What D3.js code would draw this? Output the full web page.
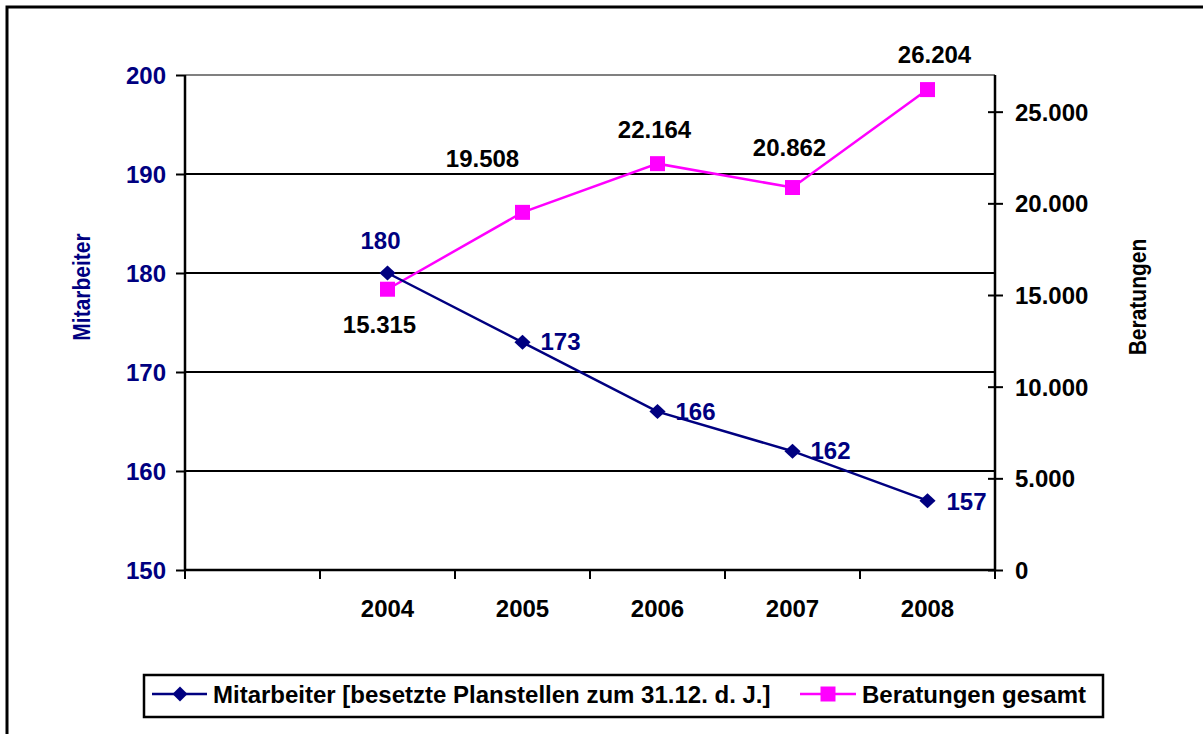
<html>
<head>
<meta charset="utf-8">
<script src="https://d3js.org/d3.v7.min.js"></script>
<style>
body { margin: 0; background: white; }
text { font-family: "Liberation Sans", Arial, sans-serif; font-weight: bold; }
</style>
</head>
<body>
<svg width="1203" height="734"></svg>
<script>
// data
var years = ["", "2004", "2005", "2006", "2007", "2008"];
var mitarbeiter = [null, 180, 173, 166, 162, 157];
var beratungen = [null, 15315, 19508, 22164, 20862, 26204];
var leftTicks = [150, 160, 170, 180, 190, 200];
var rightTicks = [0, 5000, 10000, 15000, 20000, 25000];
var seriesNames = ["Mitarbeiter [besetzte Planstellen zum 31.12. d. J.]", "Beratungen gesamt"];

// label offsets (dx, dy of baseline, anchor) per point
var mLabelPos = [null, [-7, -24, "middle"], [18, 8, "start"], [18, 8, "start"], [18, 8, "start"], [19, 9, "start"]];
var bLabelPos = [null, [-8, 44, "middle"], [-40, -45, "middle"], [-3, -26, "middle"], [-3, -32, "middle"], [7, -27, "middle"]];

var navy = "#000080", magenta = "#ff00ff";
var svg = d3.select("svg");

// outer frame
svg.append("rect").attr("x", 7).attr("y", 7).attr("width", 1300).attr("height", 800)
  .attr("fill", "none").attr("stroke", "black").attr("stroke-width", 3);

var pLeft = 185, pRight = 995, pTop = 75, pBottom = 570;
var x = d3.scaleBand().domain(years).range([pLeft, pRight]).padding(0);
var yL = d3.scaleLinear().domain([150, 200]).range([pBottom, pTop]);
var yR = d3.scaleLinear().domain([0, 27000]).range([pBottom, pTop]);
var fmt = function(v) { return d3.format(",")(v).replace(/,/g, "."); };

// gridlines
svg.append("g").selectAll("line").data(leftTicks.slice(1)).enter().append("line")
  .attr("x1", pLeft).attr("x2", pRight)
  .attr("y1", d => yL(d)).attr("y2", d => yL(d))
  .attr("stroke", d => d == 200 ? "#808080" : "black").attr("stroke-width", 2);

// left axis
var gl = svg.append("g").attr("transform", "translate(" + pLeft + ",0)")
  .call(d3.axisLeft(yL).tickValues(leftTicks).tickSize(9).tickPadding(10));
gl.select(".domain").attr("stroke", "black").attr("stroke-width", 2.5).attr("d", "M0," + pBottom + "V" + pTop);
gl.selectAll(".tick line").attr("stroke", "black").attr("stroke-width", 2);
gl.selectAll(".tick text").attr("fill", navy).style("font-size", "24px").attr("font-family", null).attr("dy", "0.36em");

// right axis
var gr = svg.append("g").attr("transform", "translate(" + pRight + ",0)")
  .call(d3.axisRight(yR).tickValues(rightTicks).tickSize(8).tickPadding(12).tickFormat(fmt));
gr.select(".domain").attr("stroke", "black").attr("stroke-width", 2.5).attr("d", "M0," + pBottom + "V" + pTop);
gr.selectAll(".tick line").attr("stroke", "black").attr("stroke-width", 2).attr("x1", -7);
gr.selectAll(".tick text").attr("fill", "black").style("font-size", "24px").attr("font-family", null).attr("dy", "0.36em");

// bottom axis
var gb = svg.append("g").attr("transform", "translate(0," + pBottom + ")")
  .call(d3.axisBottom(x).tickSize(0).tickPadding(30));
gb.select(".domain").attr("stroke", "black").attr("stroke-width", 2.5).attr("d", "M" + pLeft + ",0H" + pRight);
gb.selectAll(".tick text").attr("fill", "black").style("font-size", "24px").attr("font-family", null);
svg.append("g").selectAll("line").data(years.concat(["end"])).enter().append("line")
  .attr("x1", (d, i) => i < years.length ? x(d) : pRight)
  .attr("x2", (d, i) => i < years.length ? x(d) : pRight)
  .attr("y1", pBottom).attr("y2", pBottom + 9)
  .attr("stroke", "black").attr("stroke-width", 2);

// axis titles
svg.append("text").attr("transform", "translate(90,287) rotate(-90) scale(1,1.15)")
  .attr("text-anchor", "middle").attr("fill", navy).style("font-size", "21px").text("Mitarbeiter");
svg.append("text").attr("transform", "translate(1146,297) rotate(-90) scale(1,1.15)")
  .attr("text-anchor", "middle").attr("fill", "black").style("font-size", "21px").text("Beratungen");

var cx = d => x(d) + x.bandwidth() / 2;
var mPts = years.map((d, i) => ({ year: d, v: mitarbeiter[i], i: i })).filter(d => d.v != null);
var bPts = years.map((d, i) => ({ year: d, v: beratungen[i], i: i })).filter(d => d.v != null);

// Beratungen line
svg.append("path").datum(bPts)
  .attr("d", d3.line().x(d => cx(d.year)).y(d => yR(d.v)))
  .attr("fill", "none").attr("stroke", magenta).attr("stroke-width", 2.5);
// Mitarbeiter line
svg.append("path").datum(mPts)
  .attr("d", d3.line().x(d => cx(d.year)).y(d => yL(d.v)))
  .attr("fill", "none").attr("stroke", navy).attr("stroke-width", 2.5);

var sq = d3.symbol().type(d3.symbolSquare).size(225);
var dia = d3.symbol().type(d3.symbolSquare).size(112);

svg.append("g").selectAll("path").data(bPts).enter().append("path")
  .attr("d", sq).attr("fill", magenta)
  .attr("transform", d => "translate(" + cx(d.year) + "," + yR(d.v) + ")");
svg.append("g").selectAll("path").data(mPts).enter().append("path")
  .attr("d", dia).attr("fill", navy)
  .attr("transform", d => "translate(" + cx(d.year) + "," + yL(d.v) + ") scale(1.08,1) rotate(45)");

// data labels
svg.append("g").selectAll("text").data(mPts).enter().append("text")
  .attr("x", d => cx(d.year) + mLabelPos[d.i][0])
  .attr("y", d => yL(d.v) + mLabelPos[d.i][1])
  .attr("text-anchor", d => mLabelPos[d.i][2])
  .attr("fill", navy).style("font-size", "24px").text(d => d.v);
svg.append("g").selectAll("text").data(bPts).enter().append("text")
  .attr("x", d => cx(d.year) + bLabelPos[d.i][0])
  .attr("y", d => yR(d.v) + bLabelPos[d.i][1])
  .attr("text-anchor", d => bLabelPos[d.i][2])
  .attr("fill", "black").style("font-size", "24px").text(d => fmt(d.v));

// legend
var lg = svg.append("g");
lg.append("rect").attr("x", 144).attr("y", 675).attr("width", 959).attr("height", 42)
  .attr("fill", "white").attr("stroke", "black").attr("stroke-width", 2.5);
lg.append("line").attr("x1", 152).attr("x2", 207).attr("y1", 694).attr("y2", 694)
  .attr("stroke", navy).attr("stroke-width", 2.5);
lg.append("path").attr("d", dia).attr("fill", navy).attr("transform", "translate(180,694) rotate(45)");
lg.append("text").attr("x", 213).attr("y", 703).style("font-size", "24px").attr("fill", "black").text(seriesNames[0]);
lg.append("line").attr("x1", 800).attr("x2", 856).attr("y1", 694).attr("y2", 694)
  .attr("stroke", magenta).attr("stroke-width", 2.5);
lg.append("path").attr("d", sq).attr("fill", magenta).attr("transform", "translate(828,694)");
lg.append("text").attr("x", 862).attr("y", 703).style("font-size", "24px").attr("fill", "black").text(seriesNames[1]);
</script>
</body>
</html>
